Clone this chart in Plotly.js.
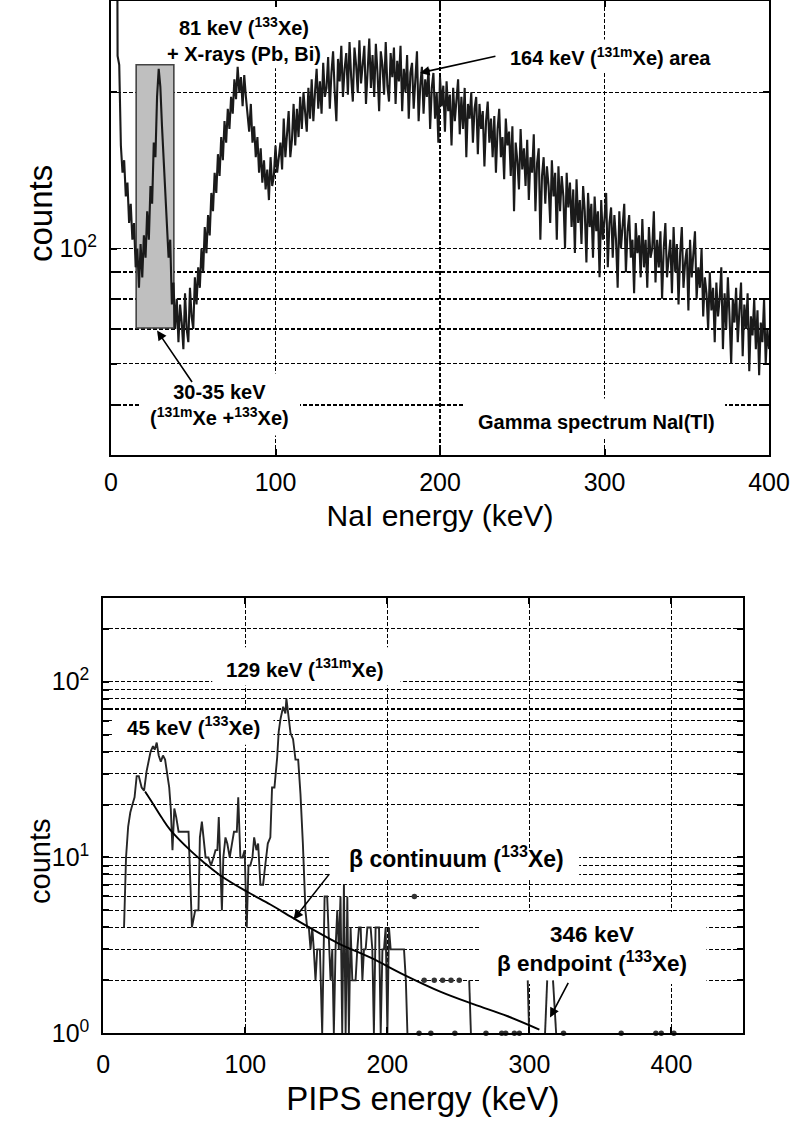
<!DOCTYPE html>
<html><head><meta charset="utf-8">
<script src="https://cdn.plot.ly/plotly-3.0.1.min.js"></script>
<style>html,body{margin:0;padding:0;background:#fff}</style>
</head><body>
<div id="chart" style="width:796px;height:1124px"></div>
<script>
// ---------- DATA ----------
// NaI(Tl) gamma spectrum: counts per 1 keV channel, starting at 3 keV
const naiStartKeV = 3;
const naiStepKeV = 1;
const naiCounts = [
3000,235,226,158,140,148,126,134,112,122,
104,112,92,100,84,102,88,106,96,118,
104,132,122,160,150,196,222,205,172,150,
128,112,96,104,78,86,70,80,66,78,
72,64,82,70,66,84,74,70,88,78,
92,84,100,90,110,98,116,106,128,118,
140,128,152,138,164,148,176,160,186,170,
196,182,212,194,224,200,214,188,216,196,
184,168,190,160,172,150,164,140,156,134,
148,130,142,124,150,132,138,158,140,150,
160,142,178,150,166,184,150,162,190,158,
186,164,196,170,200,182,168,204,178,212,
176,200,222,186,210,182,228,196,204,234,
186,218,240,200,176,232,210,246,196,222,
238,198,250,214,192,244,226,200,252,208,
230,246,190,222,254,204,236,196,248,218,
184,240,226,198,250,206,192,238,214,244,
190,230,210,246,184,222,200,236,178,218,
228,186,214,240,176,206,224,182,212,196,
222,170,204,218,178,200,160,214,188,206,
168,210,184,198,158,204,176,192,212,166,
196,170,204,150,190,178,200,160,186,196,
152,190,170,184,144,176,192,160,178,150,
180,140,170,186,150,164,136,178,158,168,
138,172,118,160,148,130,170,142,156,132,
162,124,150,140,166,118,146,156,104,138,
150,122,144,132,112,148,126,140,104,144,
118,138,126,100,140,120,134,110,130,98,
136,112,124,102,132,118,94,128,110,122,
96,126,108,118,88,124,104,114,128,92,
112,120,96,116,104,84,118,100,110,122,
90,108,116,96,104,82,112,98,106,88,
114,92,104,84,110,96,100,118,86,104,
92,108,80,100,112,88,96,104,82,110,
90,102,78,98,110,84,94,100,76,104,
88,96,108,80,92,84,100,74,88,82,
70,90,76,84,66,86,74,80,92,64,
82,70,88,74,60,80,72,84,66,76,
86,62,78,70,82,58,74,68,80,64,
76,57,72,66,80,60,70,64
];
const naiWindowKeV = [15.3, 38.2];      // shaded 30-35 keV window
const naiWindowCounts = [70.3, 226];

// PIPS beta spectrum (null = empty channel)
const pipsEnergy = [
14.6,16,17.5,19,20.5,22,23.5,25,27,28.7,
30.5,32,33.3,35,36.2,37.6,39,40.5,42,43.5,
44.7,46.4,47.5,48.7,50,51.3,53,54.6,56.5,58.3,
60,62.4,64.7,67,68,69.4,70.6,72,74,75.8,
77.6,79,80.3,81.3,82.4,83.5,84.5,86,87.3,89,
90.6,92,94,95,96.5,98,99.5,101,102.2,103.5,
105,106.2,107.8,109,110.6,112.5,114,115.8,117.6,118.8,
120.5,121.7,122.4,123.5,124.7,126.6,128.2,128.9,129.9,131.8,
133.6,135.3,137.2,138.8,140.5,142.3,143.5,144.7,145.9,147.1,
148.2,149.4,150.6,152.5,154.1,155.8,157.6,158.8,160,161.2,
162.3,163.5,164.7,165.8,167,168.2,169.4,170.6,171.8,172.9,
174.1,175.3,176.5,177.6,178.8,180,181.2,182.4,183.5,184.7,
185.9,187,188.2,189.4,190.5,191.7,192.9,194.1,195.3,196.5,
197.6,198.8,200,201.1,202.3,203.5,204.7,206,207.1,208.2,
209.4,210.5,211.7,213,214.1,216.5,219,220.7,222.3,224,
225.9,228.2,230.6,231.8,233,236,238.9,242,244.8,246.2,
247.5,249,250.6,254,257.6,258.8,264,269.4,275,280.5,
282,283.3,286.5,289.4,291,292.9,296,298.8,299.8,305,
311,312.5,314.5,316.6,318.8,321.5,324,344,364.6,377,
389,391,392.8,397,401.7
];
const pipsCounts = [
4,10,15,18,20,22,29,29,25,24,
31,36,40,43,41,45,38,35,38,36,
30,25,19,11,19,17,14,14,14,14,
14,4,5,5,13,16,13,10,10,9,
10,11,11,17,9,5,10,13,12,10,
12,14,14,22,10,10,11,4,9,9,
10,13,11,12,7,7,9,12,13,25,
25,31,37,52,61,72,66,80,68,51,
47,36,36,23,12,5,4,4,3,4,
3,2,3,3,1,6,6,3,2,3,
1,3,5,3,6,1,7,1,6,1,
4,2,2,2,3,4,4,2,3,3,
4,4,4,3,1,4,4,4,1,3,
3,4,1,4,3,3,3,3,3,3,
3,3,3,2,1,null,6,null,1,null,
2,null,1,null,2,null,2,null,2,null,
1,null,2,null,2,1,null,1,null,1,
null,1,null,1,null,1,null,2,1,null,
1,2,null,2,1,null,1,null,1,null,
1,null,1,null,1
];

// beta continuum fit (133Xe)
const fitEnergy = [29.4,35.3,41.2,47,61,70.6,82.4,101,117.6,134,164.7,188.2,211.7,237.6,261,284.7,307];
const fitCounts = [23.7,20,16.8,14.4,11,9.4,7.9,6.4,5.4,4.5,3.27,2.69,2.15,1.72,1.46,1.25,1.05];

// axis ticks / gridlines
const topXTicks = [0,100,200,300,400];
const topYTicks = [100];
const topYTickText = ['10<sup>2</sup>'];
const topYMinor = [50,60,70,80,90,200];
const botXTicks = [0,100,200,300,400];
const botYTicks = [1,10,100];
const botYTickText = ['10<sup>0</sup>','10<sup>1</sup>','10<sup>2</sup>'];
const botYMinor = [2,3,4,5,6,7,8,9,20,30,40,50,60,70,80,90,200];

// ---------- BUILD ----------
const naiEnergy = naiCounts.map((_, i) => naiStartKeV + i * naiStepKeV);

// isolated non-empty channels (drawn as dots)
const isoX = [], isoY = [];
pipsCounts.forEach((c, i) => {
  if (c === null) return;
  const prev = i > 0 ? pipsCounts[i-1] : null;
  const next = i < pipsCounts.length-1 ? pipsCounts[i+1] : null;
  if (prev === null && next === null) { isoX.push(pipsEnergy[i]); isoY.push(c); }
});

const FONT = 'Liberation Sans, Arial, Helvetica, sans-serif';
const W = 796, H = 1124;
const PX = v => v / W, PY = v => 1 - v / H;

const traces = [
  {x: naiEnergy, y: naiCounts, xaxis:'x', yaxis:'y', mode:'lines',
   line:{color:'#1a1a1a', width:2.1}},
  {x: pipsEnergy, y: pipsCounts, xaxis:'x2', yaxis:'y2', mode:'lines', connectgaps:false,
   line:{color:'#262626', width:1.9}},
  {x: isoX, y: isoY, xaxis:'x2', yaxis:'y2', mode:'markers', cliponaxis:false,
   marker:{color:'#333', size:5.5}},
  {x: fitEnergy, y: fitCounts, xaxis:'x2', yaxis:'y2', mode:'lines',
   line:{color:'#000', width:1.9, shape:'spline'}}
];

const GRID = {gridcolor:'#000', gridwidth:1.6, griddash:'4px,2px'};
function axisBase(extra) {
  return Object.assign({
    showgrid:true, gridcolor:GRID.gridcolor, gridwidth:GRID.gridwidth, griddash:GRID.griddash,
    showline:true, linecolor:'#000', linewidth:2, mirror:'ticks',
    ticks:'inside', ticklen:6, tickwidth:2, tickcolor:'#000',
    tickfont:{family:FONT, size:25, color:'#000'},
    zeroline:false, tickmode:'array', automargin:false
  }, extra);
}
function minorGrid(vals) {
  return {tickmode:'array', tickvals:vals, ticks:'inside', ticklen:6, tickwidth:2, tickcolor:'#000',
          showgrid:true, gridcolor:GRID.gridcolor, gridwidth:GRID.gridwidth, griddash:GRID.griddash};
}

const whiteBoxesTop = [
  [32.8, 127, 222.6, 300],
  [239.5, 367, 218, 253],
  [17.6, 114.9, 43.6, 57.4],
  [215.2, 373.3, 43.1, 51.4]
];
const whiteBoxesBot = [
  [76.7, 209.3, 95, 157],
  [6.1, 119.8, 43.7, 68.2],
  [160, 335, 7.57, 10.9],
  [265.8, 424.6, 1.91, 4.91]
];

const shapes = [];
whiteBoxesTop.forEach(b => shapes.push({type:'rect', xref:'x', yref:'y', x0:b[0], x1:b[1], y0:b[2], y1:b[3],
  fillcolor:'#fff', line:{width:0}, layer:'between'}));
whiteBoxesBot.forEach(b => shapes.push({type:'rect', xref:'x2', yref:'y2', x0:b[0], x1:b[1], y0:b[2], y1:b[3],
  fillcolor:'#fff', line:{width:0}, layer:'between'}));
shapes.push({type:'rect', xref:'x', yref:'y', x0:naiWindowKeV[0], x1:naiWindowKeV[1],
  y0:naiWindowCounts[0], y1:naiWindowCounts[1], fillcolor:'#bfbfbf', line:{color:'#444', width:1.6}, layer:'between'});

function label(text, x, y, size, angle) {
  return {text:text, xref:'paper', yref:'paper', x:PX(x), y:PY(y), xanchor:'center', yanchor:'middle',
          showarrow:false, font:{family:FONT, size:size, color:'#000'}, align:'center', textangle:angle||0};
}
function arrow(xr, yr, x, y, ax, ay) {
  return {text:'', xref:xr, yref:yr, x:x, y:Math.log10(y), ax:ax, ay:ay, showarrow:true,
          arrowhead:2, arrowsize:1.2, arrowwidth:1.6, arrowcolor:'#000', standoff:0, startstandoff:0};
}

const annotations = [
  label('<b>81 keV (<sup>133</sup>Xe)<br>+ X-rays (Pb, Bi)</b>', 244, 40, 20),
  label('<b>164 keV (<sup>131m</sup>Xe) area</b>', 610, 57, 20),
  label('<b>30-35 keV<br>(<sup>131m</sup>Xe +<sup>133</sup>Xe)</b>', 220, 405, 20),
  label('<b>Gamma spectrum NaI(Tl)</b>', 596, 422, 20),
  label('<b>129 keV (<sup>131m</sup>Xe)</b>', 305, 668, 20.5),
  label('<b>45 keV (<sup>133</sup>Xe)</b>', 193, 726, 20.5),
  label('<b>β continuum (<sup>133</sup>Xe)</b>', 456, 857, 23),
  label('<b>346 keV<br>β endpoint (<sup>133</sup>Xe)</b>', 592, 949, 22.5),
  label('counts', 40, 214, 33, -90),
  label('counts', 40, 862, 29, -90),
  arrow('x','y', 187.8, 218, 77, -17),
  arrow('x','y', 28, 69.5, 36, 53),
  arrow('x2','y2', 133.9, 4.43, 37, -47),
  arrow('x2','y2', 314.5, 1.23, 19, -36)
];

const layout = {
  width:W, height:H, margin:{l:0, r:0, t:0, b:0},
  paper_bgcolor:'#fff', plot_bgcolor:'#fff', showlegend:false,
  font:{family:FONT, color:'#000'},
  xaxis: axisBase({domain:[111/W, 769/W], anchor:'y', range:[0,400], tickvals:topXTicks,
    ticklabelstandoff:4,
    title:{text:'NaI energy (keV)', font:{family:FONT, size:30}, standoff:10}}),
  yaxis: axisBase({domain:[1-455/H, 1-1/H], anchor:'x', type:'log', range:[Math.log10(40), Math.log10(300)],
    tickvals:topYTicks, ticktext:topYTickText, ticklabelstandoff:7, minor:minorGrid(topYMinor)}),
  xaxis2: axisBase({domain:[103.3/W, 742.5/W], anchor:'y2', range:[0,450], tickvals:botXTicks,
    ticklabelstandoff:8,
    title:{text:'PIPS energy (keV)', font:{family:FONT, size:33}, standoff:10}}),
  yaxis2: axisBase({domain:[1-1033.3/H, 1-597.7/H], anchor:'x2', type:'log', range:[0, Math.log10(300)],
    tickvals:botYTicks, ticktext:botYTickText, ticklabelstandoff:7, minor:minorGrid(botYMinor)}),
  shapes:shapes, annotations:annotations
};

Plotly.newPlot('chart', traces, layout, {displayModeBar:false, staticPlot:true});
</script>
</body></html>
